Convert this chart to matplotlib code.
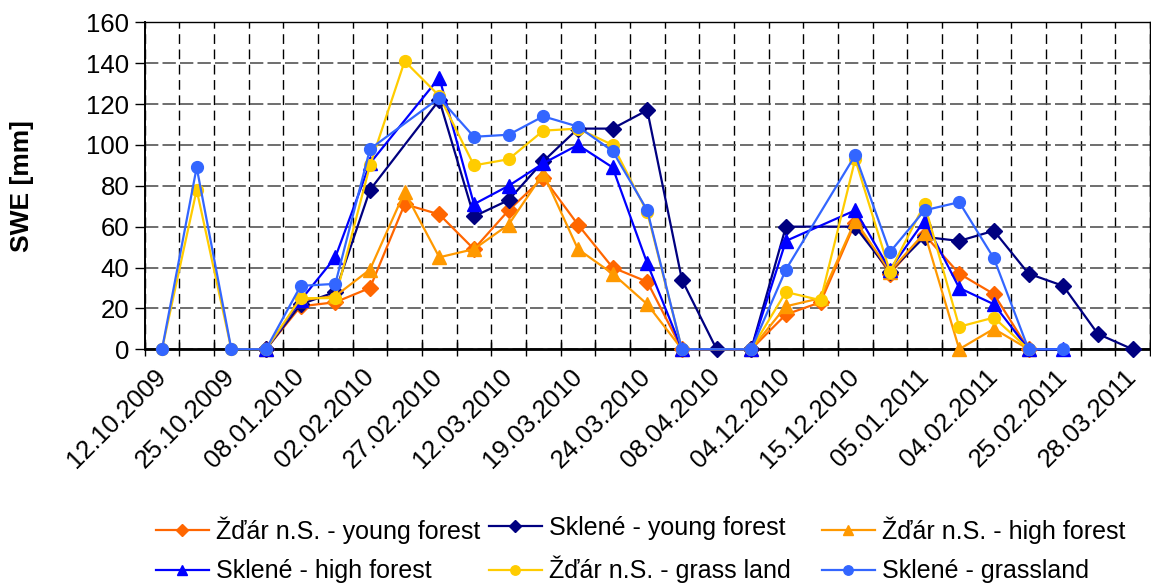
import numpy as np
import matplotlib
matplotlib.use("Agg")
import matplotlib.pyplot as plt

nan = np.nan

# every other category carries a date label
date_labels = [
    "12.10.2009", "25.10.2009", "08.01.2010", "02.02.2010", "27.02.2010",
    "12.03.2010", "19.03.2010", "24.03.2010", "08.04.2010", "04.12.2010",
    "15.12.2010", "05.01.2011", "04.02.2011", "25.02.2011", "28.03.2011",
]
n_cat = 29

zdar_young = [nan, nan, nan, 0, 21, 23, 30, 71, 66, 49, 68, 84, 61, 40, 33, 0,
              nan, 0, 17, 23, 62, 37, 56, 37, 27, 0, nan, nan, nan]
sklene_young = [nan, nan, nan, 0, 22, 28, 78, nan, 122, 65, 73, 92, 108, 108, 117, 34,
                0, 0, 60, nan, 60, 38, 55, 53, 58, 37, 31, 7.5, 0]
zdar_high = [nan, nan, nan, 0, 24, 26, 39, 77, 45, 49, 61, 86, 49, 37, 22, 0,
             nan, 0, 21, 25, 63, 38, 57, 0, 10, 0, nan, nan, nan]
sklene_high = [nan, nan, nan, 0, 24, 45, 91, nan, 133, 71, 80, 91, 100, 89, 42, 0,
               nan, 0, 53, nan, 68, 39, 63, 30, 22, 0, 0, nan, nan]
zdar_grass = [0, 78, 0, 0, 25, 25, 90, 141, 124, 90, 93, 107, 108, 100, 67, 0,
              nan, 0, 28, 24, 93, 38, 71, 11, 15.5, 0, nan, nan, nan]
sklene_grass = [0, 89, 0, 0, 31, 32, 98, nan, 123, 104, 105, 114, 109, 97, 68, 0,
                nan, 0, 39, nan, 95, 47.5, 68, 72, 44.5, 0, 0, nan, nan]

series = [
    ("Žďár n.S. - young forest", zdar_young, "#FF6600", "D", 8),
    ("Sklené - young forest", sklene_young, "#000080", "D", 8),
    ("Žďár n.S. - high forest", zdar_high, "#FF9900", "^", 9.5),
    ("Sklené - high forest", sklene_high, "#0000FF", "^", 9.5),
    ("Žďár n.S. - grass land", zdar_grass, "#FFCC00", "o", 8.5),
    ("Sklené - grassland", sklene_grass, "#3366FF", "o", 8.5),
]

plt.rcParams["font.family"] = ["Liberation Sans", "DejaVu Sans"]

fig = plt.figure(figsize=(11.51, 5.83), dpi=100)
ax = fig.add_axes([0.1257, 0.401, 0.8733, 0.5606])

x = np.arange(n_cat)
handles = []
for label, vals, color, marker, ms in series:
    v = np.array(vals, dtype=float)
    ok = ~np.isnan(v)
    h, = ax.plot(x[ok], v[ok], color=color, marker=marker, markersize=ms,
                 linewidth=1.6, label=label, zorder=3, clip_on=False)
    handles.append(h)

ax.set_xlim(-0.5, n_cat - 0.5)
ax.set_ylim(0, 160)
ax.set_yticks(np.arange(0, 161, 20))

# tick marks on category boundaries, labels on even categories
ax.set_xticks(np.arange(n_cat + 1) - 0.5)
ax.set_xticklabels([])
ax.set_xticks(x[::2], date_labels, minor=True)
ax.tick_params(axis="x", which="major", direction="inout", length=10, width=1)
ax.tick_params(axis="x", which="minor", length=0, pad=17)
for t in ax.get_xticklabels(minor=True):
    t.set_rotation(45)
    t.set_ha("right")
    t.set_va("center")
    t.set_rotation_mode("anchor")
    t.set_fontsize(18.5)
ax.tick_params(axis="y", direction="out", length=7, width=1, labelsize=18.5, pad=4)

ax.grid(axis="x", which="major", color="black", linestyle=(0, (7, 4)), linewidth=1)
ax.grid(axis="y", color="#555555", linestyle=(0, (8, 2.5)), linewidth=1.2)
ax.set_axisbelow(True)
for side in ["top", "right"]:
    ax.spines[side].set_linewidth(1)
ax.spines["left"].set_linewidth(1.4)
ax.spines["bottom"].set_linewidth(2)

ax.set_ylabel("SWE [mm]", fontsize=19, fontweight="bold")
ax.yaxis.set_label_coords(-0.110, 0.5)

# legend in three equally spaced columns, row-major like the original
col_x = [156 / 1151, 489 / 1151, 822 / 1151]
for i, cx in enumerate(col_x):
    hs = [handles[i], handles[i + 3]]
    fig.legend(hs, [h.get_label() for h in hs], loc="upper left",
               bbox_to_anchor=(cx, 0.1145), frameon=False, fontsize=18,
               handlelength=2.1, handletextpad=0.3, borderpad=0,
               borderaxespad=0, labelspacing=0.63, markerscale=0.8)

fig.savefig("out.png", dpi=100)
